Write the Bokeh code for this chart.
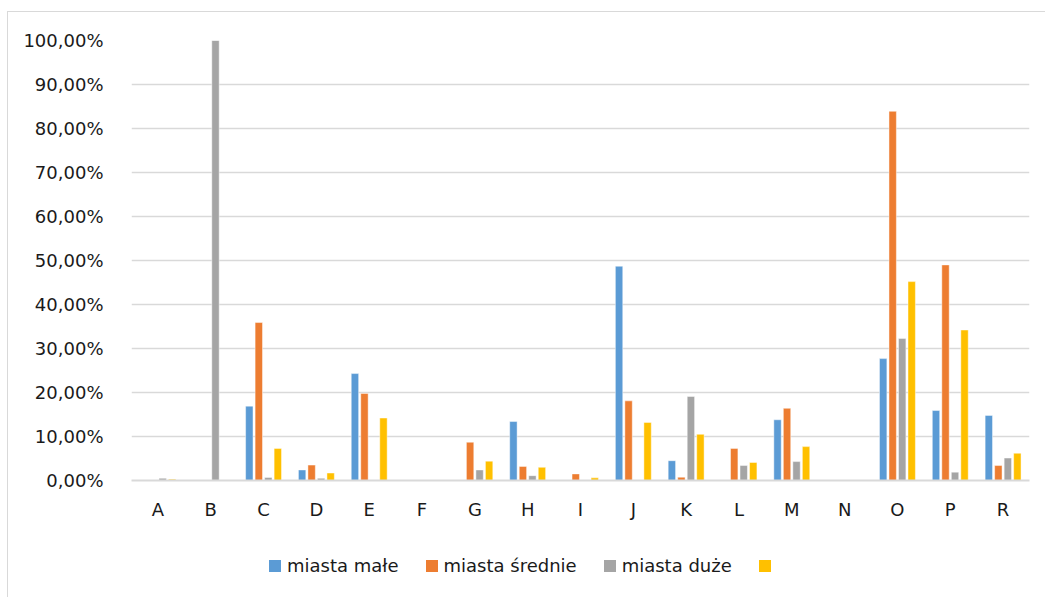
from bokeh.plotting import figure
from bokeh.layouts import column
from bokeh.models import ColumnDataSource, Range1d, FactorRange, FixedTicker, Legend, LegendItem
from bokeh.transform import dodge
from bokeh.core.properties import value
from bokeh.embed import file_html
from bokeh.resources import INLINE

categories = ["A", "B", "C", "D", "E", "F", "G", "H", "I", "J", "K", "L", "M", "N", "O", "P", "R"]
miasta_male = [0, 0, 16.9, 2.4, 24.3, 0, 0, 13.4, 0, 48.7, 4.5, 0, 13.8, 0, 27.7, 15.9, 14.8]
miasta_srednie = [0, 0, 35.9, 3.5, 19.8, 0, 8.7, 3.2, 1.5, 18.1, 0.75, 7.3, 16.4, 0, 83.9, 49.0, 3.4]
miasta_duze = [0.5, 100, 0.7, 0.5, 0, 0, 2.4, 1.1, 0, 0, 19.1, 3.4, 4.3, 0, 32.3, 1.9, 5.1]
seria_4 = [0.3, 0, 7.3, 1.7, 14.2, 0, 4.4, 3.0, 0.6, 13.2, 10.5, 4.1, 7.7, 0, 45.2, 34.2, 6.2]
series_labels = ["miasta małe", "miasta średnie", "miasta duże", ""]
tick_values = [0, 10, 20, 30, 40, 50, 60, 70, 80, 90, 100]
tick_labels = ["0,00%", "10,00%", "20,00%", "30,00%", "40,00%", "50,00%",
               "60,00%", "70,00%", "80,00%", "90,00%", "100,00%"]

colors = ["#5B9BD5", "#ED7D31", "#A5A5A5", "#FFC000"]
FONT = "DejaVu Sans"
BORDER = "1px solid #d9d9d9"

source = ColumnDataSource(dict(cat=categories, s0=miasta_male, s1=miasta_srednie,
                               s2=miasta_duze, s3=seria_4))

p = figure(x_range=FactorRange(*categories, range_padding=0), y_range=Range1d(0, 100),
           width=1038, height=530, output_backend="svg", toolbar_location=None,
           min_border_left=123, min_border_right=17, min_border_top=28, min_border_bottom=62)
p.margin = (11, 0, 0, 7)
p.styles = {"border-left": BORDER, "border-top": BORDER}
p.outline_line_color = None
p.background_fill_color = "white"
p.border_fill_color = "white"

offsets = [-0.27, -0.09, 0.09, 0.27]
for i in range(4):
    p.vbar(x=dodge("cat", offsets[i], range=p.x_range), top="s%d" % i, width=0.14,
           source=source, fill_color=colors[i], line_color="white", line_alpha=0.45,
           line_width=1)

p.xgrid.grid_line_color = None
p.ygrid.grid_line_color = "#d9d9d9"
p.ygrid.grid_line_width = 1.5
p.ygrid.ticker = FixedTicker(ticks=tick_values)

p.yaxis.ticker = FixedTicker(ticks=tick_values)
p.yaxis.major_label_overrides = {v: l for v, l in zip(tick_values, tick_labels)}
p.yaxis.axis_line_color = None
p.yaxis.major_tick_line_color = None
p.yaxis.minor_tick_line_color = None
p.yaxis.major_label_standoff = 22
p.yaxis.major_label_text_font = FONT
p.yaxis.major_label_text_font_size = "18px"
p.yaxis.major_label_text_color = "#1a1a1a"

p.xaxis.axis_line_color = "#d9d9d9"
p.xaxis.axis_line_width = 2
p.xaxis.major_tick_line_color = None
p.xaxis.minor_tick_line_color = None
p.xaxis.major_label_standoff = 12
p.xaxis.major_label_text_font = FONT
p.xaxis.major_label_text_font_size = "18px"
p.xaxis.major_label_text_color = "#1a1a1a"

# legend strip below the chart (its renderers hold a single zero-height bar)
p2 = figure(x_range=Range1d(0, 1), y_range=Range1d(0, 1), width=1038, height=56,
            output_backend="svg", toolbar_location=None,
            min_border_left=0, min_border_right=0, min_border_top=0, min_border_bottom=0)
p2.margin = (0, 0, 0, 7)
p2.styles = {"border-left": BORDER}
p2.outline_line_color = None
p2.axis.visible = False
p2.grid.visible = False
hidden = ColumnDataSource(dict(x=[0.5], top=[0]))
items = []
for i in range(4):
    r = p2.vbar(x="x", top="top", width=0.001, source=hidden, fill_color=colors[i],
                line_color=None)
    items.append(LegendItem(label=value(series_labels[i]), renderers=[r]))
legend = Legend(items=items, orientation="horizontal", location=(136, 21),
                label_text_font=FONT, label_text_font_size="18px", label_text_color="#1a1a1a",
                glyph_width=15, glyph_height=15, label_standoff=5, spacing=25,
                padding=0, margin=0, border_line_color=None, background_fill_alpha=0,
                label_height=20)
p2.add_layout(legend, "center")

layout = column(p, p2, spacing=0)
open("out.html", "w").write(file_html(layout, INLINE))
